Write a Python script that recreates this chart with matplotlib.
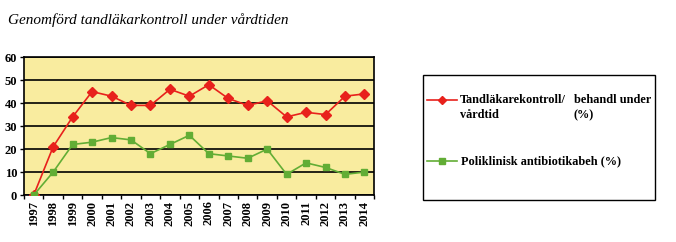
import matplotlib.pyplot as plt
from matplotlib.lines import Line2D
from matplotlib.patches import Rectangle

# Data
years = [str(y) for y in range(1997, 2015)]
tandlakare = [0, 21, 34, 45, 43, 39, 39, 46, 43, 48, 42, 39, 41, 34, 36, 35, 43, 44]
antibiotika = [0, 10, 22, 23, 25, 24, 18, 22, 26, 18, 17, 16, 20, 9, 14, 12, 9, 10]

red = '#E8211C'
green = '#62AD35'
serif = 'Liberation Serif'

fig = plt.figure(figsize=(6.76, 2.42), dpi=100)
ax = fig.add_axes([0.0355, 0.194, 0.518, 0.57])
ax.set_facecolor('#F9EC9F')

x = range(len(years))
ax.plot(x, tandlakare, color=red, marker='D', markersize=5, linewidth=1.2, zorder=3)
ax.plot(x, antibiotika, color=green, marker='s', markersize=5, linewidth=1.2, zorder=3)

ax.set_xlim(-0.5, len(years) - 0.5)
ax.set_ylim(0, 60)
ax.set_yticks(range(0, 61, 10))
ax.set_xticks(list(x))
ax.set_xticklabels(years, rotation=90, fontfamily=serif, fontweight='bold', fontsize=9)
ax.set_xticks([i + 0.5 for i in range(-1, len(years))], minor=True)
ax.tick_params(axis='x', which='major', length=0, pad=4)
ax.tick_params(axis='x', which='minor', length=3, width=1)
ax.tick_params(axis='y', length=3, width=1, pad=2)
for lab in ax.get_yticklabels():
    lab.set_fontfamily(serif)
    lab.set_fontweight('bold')
    lab.set_fontsize(9)

ax.grid(axis='y', color='black', linewidth=1.2)
ax.set_axisbelow(True)
for s in ax.spines.values():
    s.set_linewidth(1.2)

# Title
fig.text(0.012, 0.915, 'Genomförd tandläkarkontroll under vårdtiden',
         fontfamily=serif, fontstyle='italic', fontsize=11, va='center')

# Manual legend
W, H = 676, 242
fig.patches.append(Rectangle((423 / W, 1 - 200 / H), 232 / W, 125 / H,
                             transform=fig.transFigure, fill=False,
                             edgecolor='black', linewidth=1))
fig.lines.append(Line2D([427 / W, 442 / W, 457 / W], [1 - 100 / H] * 3, transform=fig.transFigure,
                        color=red, marker='D', markersize=4, markevery=[1], linewidth=1.2))
fig.lines.append(Line2D([427 / W, 442 / W, 457 / W], [1 - 161 / H] * 3, transform=fig.transFigure,
                        color=green, marker='s', markersize=4, markevery=[1], linewidth=1.2))

lkw = dict(fontfamily=serif, fontweight='bold', fontsize=8.8, va='center')
fig.text(460 / W, 1 - 100 / H, 'Tandläkarekontroll/', **lkw)
fig.text(574 / W, 1 - 100 / H, 'behandl under', **lkw)
fig.text(460 / W, 1 - 115 / H, 'vårdtid', **lkw)
fig.text(573 / W, 1 - 115 / H, '(%)', **lkw)
fig.text(461 / W, 1 - 161 / H, 'Poliklinisk antibiotikabeh (%)', **lkw)

fig.savefig('out.png', dpi=100)
